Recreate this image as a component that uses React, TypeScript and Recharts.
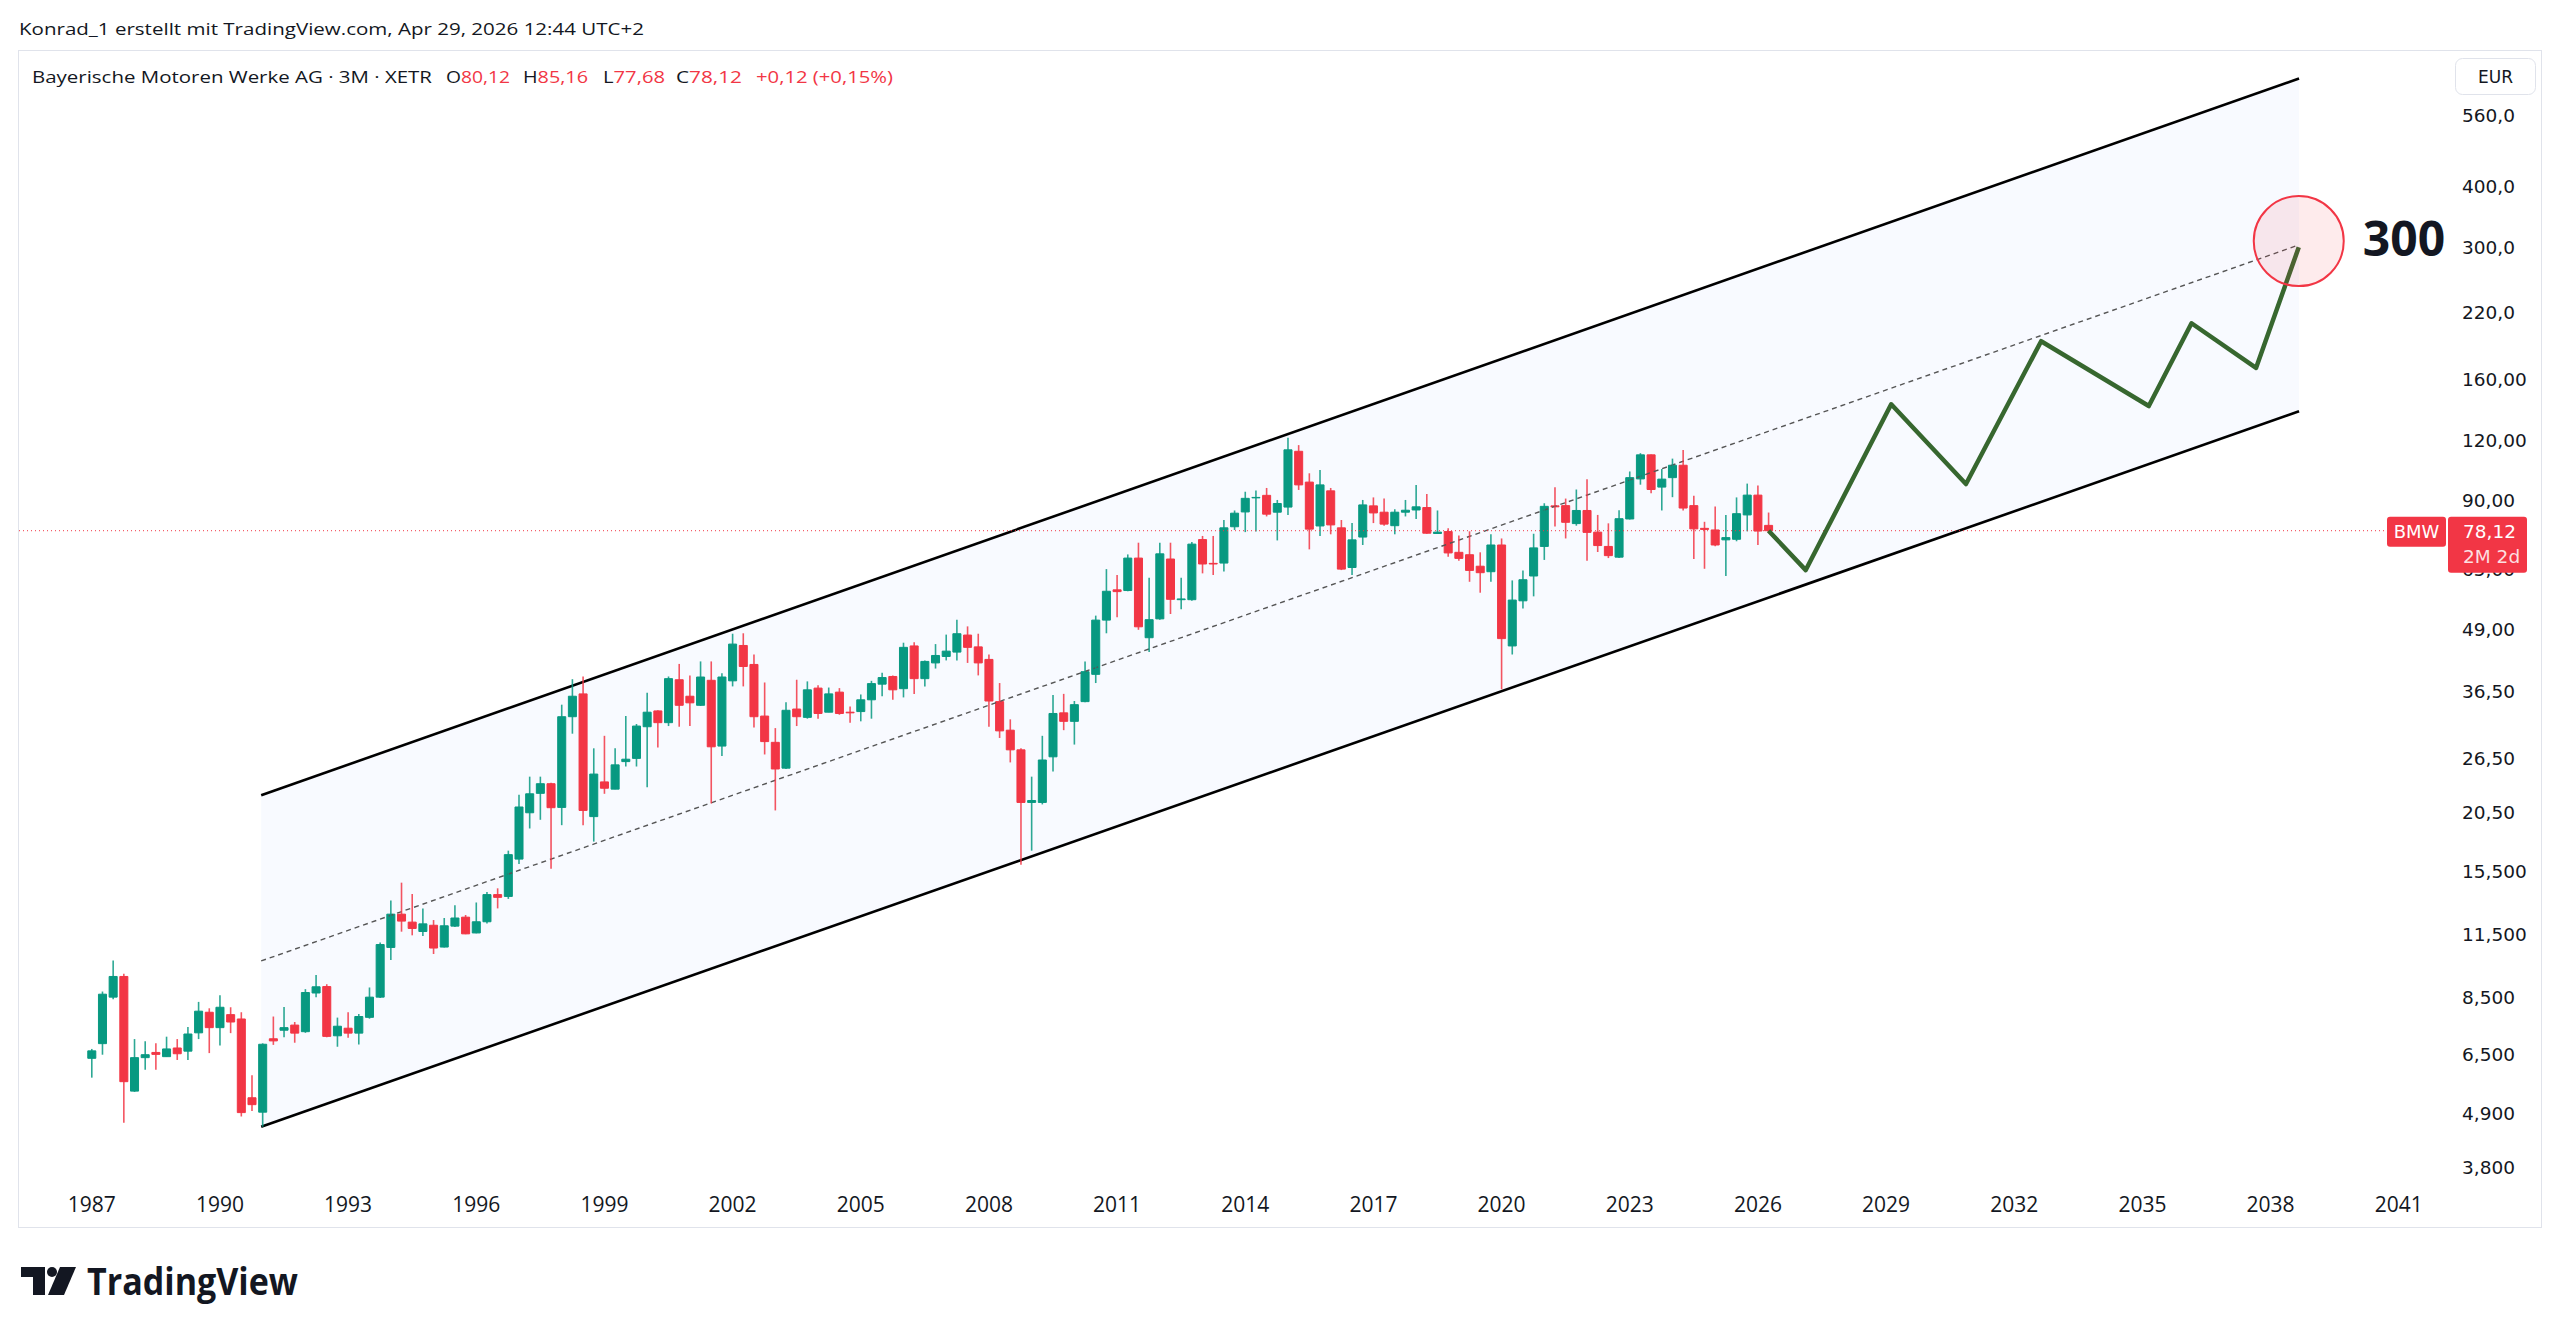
import React from 'react';
import {
  ComposedChart,
  XAxis,
  YAxis,
  Area,
  Line,
  ReferenceLine,
  ReferenceArea,
  ReferenceDot,
} from 'recharts';

// ---------- data (quarterly candles, BMW XETR, 1987Q1 .. 2026Q2) ----------
const START_YEAR = 1987;
const QUARTER_STEP = 0.25;

const OPEN = [
  6.38, 6.84, 8.53, 9.41, 5.46, 6.40, 6.56, 6.43, 6.70, 6.60, 7.20, 7.94, 7.38, 7.85, 7.69, 5.29,
  4.94, 7.00, 7.29, 7.47, 7.24, 8.70, 8.97, 7.10, 7.36, 7.19, 7.75, 8.53, 10.80, 12.65, 12.18, 11.65,
  12.00, 10.82, 11.95, 12.47, 11.57, 12.20, 13.88, 13.76, 16.43, 20.47, 22.45, 23.50, 21.00, 32.30, 36.00, 20.10,
  23.70, 22.90, 26.10, 26.50, 30.80, 33.20, 31.40, 38.50, 35.60, 34.10, 38.40, 28.10, 38.30, 45.30, 41.40, 32.40,
  28.60, 25.30, 33.50, 32.20, 37.00, 33.00, 36.30, 33.00, 33.10, 35.00, 37.70, 39.10, 36.90, 45.20, 38.70, 41.70,
  43.00, 43.90, 47.60, 45.00, 42.40, 34.70, 30.30, 27.60, 21.50, 21.50, 26.70, 32.90, 31.60, 34.70, 39.50, 51.10,
  59.00, 58.80, 68.60, 47.00, 51.40, 68.30, 56.30, 56.30, 74.90, 66.90, 67.00, 79.60, 85.40, 91.30, 92.40, 85.30,
  87.40, 113.90, 98.40, 79.90, 94.40, 79.20, 65.60, 75.80, 87.90, 85.30, 80.00, 85.30, 86.20, 87.20, 77.10, 77.80,
  70.50, 69.70, 66.00, 64.30, 73.00, 45.20, 56.00, 63.00, 72.50, 87.90, 88.00, 80.80, 86.00, 77.60, 72.50, 68.90,
  82.60, 99.90, 112.00, 96.10, 100.50, 106.60, 88.00, 79.00, 78.40, 74.80, 75.00, 84.20, 92.50, 80.12,
];
const HIGH = [
  6.67, 8.76, 10.15, 9.53, 6.99, 6.92, 6.85, 7.07, 6.99, 7.40, 8.34, 8.09, 8.61, 8.13, 7.94, 5.89,
  6.85, 7.78, 8.14, 7.58, 8.86, 9.47, 9.07, 7.74, 7.94, 7.87, 8.93, 11.06, 13.50, 14.69, 13.92, 13.00,
  12.30, 12.42, 13.20, 12.60, 13.37, 14.05, 14.30, 17.10, 22.30, 24.30, 24.30, 23.60, 34.20, 38.60, 39.10, 27.80,
  29.50, 27.80, 32.40, 31.20, 36.20, 33.30, 39.10, 41.50, 39.30, 42.00, 42.00, 39.70, 47.90, 48.00, 43.40, 38.00,
  30.60, 34.60, 38.50, 38.20, 37.50, 37.10, 37.00, 33.90, 35.90, 38.30, 39.80, 39.30, 45.90, 46.00, 42.20, 45.60,
  47.70, 51.20, 49.60, 47.90, 43.40, 37.90, 31.90, 27.80, 24.30, 29.50, 35.80, 36.00, 34.80, 42.00, 52.20, 65.10,
  63.30, 69.80, 73.80, 62.50, 73.80, 73.80, 62.50, 74.00, 76.20, 76.20, 82.20, 86.00, 94.00, 94.50, 95.70, 90.40,
  121.40, 117.30, 102.60, 104.20, 95.70, 82.20, 81.00, 90.40, 91.50, 91.00, 86.50, 90.40, 97.10, 93.00, 86.00, 79.00,
  76.40, 77.90, 70.50, 76.80, 75.30, 61.70, 64.70, 77.00, 89.00, 96.00, 91.00, 95.00, 99.70, 84.20, 80.90, 86.10,
  103.50, 112.90, 112.20, 104.70, 110.00, 114.60, 92.20, 81.50, 87.60, 84.20, 91.50, 97.70, 96.80, 85.16,
];
const LOW = [
  5.82, 6.49, 8.45, 4.70, 5.44, 6.04, 6.04, 6.42, 6.33, 6.33, 6.99, 6.54, 6.78, 7.19, 4.84, 4.97,
  4.61, 6.80, 7.05, 6.87, 7.20, 8.53, 7.05, 6.74, 7.03, 6.81, 7.70, 8.50, 10.17, 11.64, 11.44, 11.40,
  10.47, 10.80, 11.90, 11.50, 11.55, 12.10, 13.00, 13.60, 16.05, 19.00, 19.80, 15.70, 19.30, 29.80, 19.30, 17.85,
  22.40, 22.90, 25.50, 25.50, 23.10, 27.90, 30.90, 30.80, 30.90, 34.00, 21.40, 26.80, 37.30, 37.30, 30.70, 27.00,
  20.70, 25.20, 30.90, 32.00, 32.00, 33.00, 32.60, 31.40, 31.60, 32.00, 35.60, 35.00, 35.40, 36.00, 37.30, 40.60,
  42.20, 42.20, 41.70, 39.30, 30.80, 29.20, 26.00, 16.00, 17.10, 21.30, 24.90, 30.30, 28.30, 34.60, 37.90, 48.00,
  51.80, 58.60, 48.80, 43.90, 51.20, 52.60, 53.80, 56.00, 63.80, 63.30, 64.40, 78.40, 77.60, 77.80, 83.60, 74.60,
  84.20, 94.80, 71.50, 76.20, 76.80, 64.80, 63.30, 73.00, 81.00, 80.00, 76.80, 83.60, 82.60, 77.00, 77.00, 69.00,
  67.70, 61.30, 58.20, 61.30, 36.80, 43.40, 54.00, 57.20, 68.00, 79.70, 75.30, 80.00, 67.70, 70.60, 68.60, 68.60,
  82.40, 97.20, 93.30, 86.00, 91.60, 86.00, 68.30, 65.20, 72.60, 63.00, 74.30, 77.90, 73.00, 77.68,
];
const CLOSE = [
  6.61, 8.65, 9.41, 5.71, 6.40, 6.49, 6.50, 6.67, 6.52, 7.16, 7.98, 7.38, 8.13, 7.58, 4.93, 5.12,
  6.82, 6.93, 7.38, 7.19, 8.72, 8.96, 7.08, 7.43, 7.19, 7.78, 8.53, 10.95, 12.65, 12.24, 11.82, 12.08,
  10.77, 11.97, 12.42, 11.52, 12.20, 13.88, 13.70, 16.78, 21.04, 22.40, 23.50, 20.97, 32.30, 35.60, 20.70, 24.60,
  23.00, 25.70, 26.40, 30.90, 33.00, 31.40, 38.70, 34.10, 34.50, 39.00, 28.00, 39.00, 45.60, 41.00, 32.30, 28.70,
  25.20, 33.30, 32.30, 36.70, 32.80, 36.00, 32.80, 32.90, 35.00, 37.80, 38.90, 36.70, 44.90, 38.70, 42.00, 43.20,
  44.10, 47.90, 44.90, 41.70, 34.80, 30.20, 27.60, 21.50, 21.70, 26.30, 32.80, 31.60, 34.20, 40.00, 51.10, 58.60,
  58.50, 68.60, 49.50, 51.20, 70.00, 56.40, 56.50, 73.30, 66.70, 66.70, 79.20, 84.90, 91.10, 91.50, 84.50, 88.90,
  114.70, 97.10, 78.70, 97.10, 80.30, 65.10, 74.80, 88.30, 85.00, 80.60, 85.30, 86.10, 87.50, 77.20, 77.60, 70.30,
  68.50, 64.70, 64.00, 73.00, 46.80, 56.20, 61.90, 72.00, 87.70, 87.50, 81.30, 86.00, 77.50, 72.80, 69.40, 82.70,
  100.50, 112.00, 95.00, 99.80, 106.60, 87.00, 78.80, 78.60, 73.00, 75.60, 84.70, 92.50, 78.00, 78.12,
];

// axis ticks
const X_TICKS = [1987, 1990, 1993, 1996, 1999, 2002, 2005, 2008, 2011, 2014, 2017, 2020, 2023, 2026, 2029, 2032, 2035, 2038, 2041];
const Y_TICKS = [3.8, 4.9, 6.5, 8.5, 11.5, 15.5, 20.5, 26.5, 36.5, 49, 65, 90, 120, 160, 220, 300, 400, 560];
const Y_TICK_LABELS = ['3,800', '4,900', '6,500', '8,500', '11,500', '15,500', '20,50', '26,50', '36,50', '49,00', '65,00', '90,00', '120,00', '160,00', '220,0', '300,0', '400,0', '560,0'];

// parallel channel (start / end)
const CHANNEL_X = [1990.965, 2038.667];
const CHANNEL_UPPER = [22.25, 669];
const CHANNEL_LOWER = [4.61, 137.7];
const CHANNEL_MID = [10.13, 303.5];

// projected path
const PROJ_X = [2026.25, 2027.12, 2029.12, 2030.87, 2032.63, 2035.15, 2036.15, 2037.66, 2038.66];
const PROJ_V = [78.12, 64.8, 142.4, 97.5, 192.1, 141.2, 209.2, 169.2, 300];

const TARGET_X = 2038.66;
const TARGET_Y = 309;
const TARGET_LABEL = '300';
const LAST_PRICE = 78.12;
const LAST_PRICE_LABEL = '78,12';
const COUNTDOWN_LABEL = '2M 2d';
const SYMBOL = 'BMW';

// ---------- styling ----------
const GREEN = '#089981';
const RED = '#f23645';
const INK = '#131722';
const FONT_UI = "'Open Sans', 'Noto Sans', sans-serif";
const FONT_PRICE = "'DejaVu Sans', Verdana, sans-serif";

const X_DOMAIN: [number, number] = [1985.296, 2042.06];
const Y_DOMAIN: [number, number] = [3.496, 762];
const BODY_HALF = 0.094;
const CHART_W = 2524;
const CHART_H = 1178;
const CHART_MARGIN = { top: 1, right: 0, bottom: 0, left: 1 };

const PriceTag = (props: any) => {
  const vb = props.viewBox || {};
  const right = (vb.x || 0) + (vb.width || 0);
  const y = vb.y || 0;
  return (
    <g>
      <rect x={right - 57} y={y - 14} width={59} height={30} rx={3} fill={RED} />
      <text x={right - 27.5} y={y + 1} textAnchor="middle" dominantBaseline="central" fill="#fff" fontSize={18} fontFamily={FONT_PRICE}>
        {SYMBOL}
      </text>
      <rect x={right + 4} y={y - 14} width={79} height={56} rx={3} fill={RED} />
      <text x={right + 19} y={y + 1} dominantBaseline="central" fill="#fff" fontSize={18.5} fontFamily={FONT_PRICE}>
        {LAST_PRICE_LABEL}
      </text>
      <text x={right + 19} y={y + 26} dominantBaseline="central" fill="#ffffff" fillOpacity={0.85} fontSize={18.5} fontFamily={FONT_PRICE}>
        {COUNTDOWN_LABEL}
      </text>
    </g>
  );
};

const TargetLabel = (props: any) => {
  const vb = props.viewBox || {};
  const x = (vb.x || 0) + (vb.width || 0) + 19;
  const y = (vb.y || 0) + (vb.height || 0) / 2 - 4;
  return (
    <text x={x} y={y} dominantBaseline="central" fill={INK} fontSize={48} fontWeight={700} fontFamily={FONT_UI}>
      {TARGET_LABEL}
    </text>
  );
};

const xAxisProps = {
  dataKey: 'x',
  type: 'number' as const,
  domain: X_DOMAIN,
  allowDataOverflow: true,
  ticks: X_TICKS,
  interval: 0 as const,
  tickLine: false,
  axisLine: false,
  tickSize: 0,
  tickMargin: 12,
  height: 43,
};
const yAxisProps = {
  orientation: 'right' as const,
  type: 'number' as const,
  scale: 'log' as const,
  domain: Y_DOMAIN,
  allowDataOverflow: true,
  ticks: Y_TICKS,
  interval: 0 as const,
  width: 98,
  tickLine: false,
  axisLine: false,
  tickSize: 0,
  tickMargin: 18,
};

export default function App() {
  const bandData = CHANNEL_X.map((x, i) => ({ x, band: [CHANNEL_LOWER[i], CHANNEL_UPPER[i]] }));
  const projData = PROJ_X.map((x, i) => ({ x, v: PROJ_V[i] }));
  const candles = OPEN.map((o, i) => ({
    x: START_YEAR + i * QUARTER_STEP,
    o,
    h: HIGH[i],
    l: LOW[i],
    c: CLOSE[i],
  }));

  return (
    <div style={{ position: 'absolute', left: 0, top: 0, width: 2560, height: 1335, background: '#fff', overflow: 'hidden' }}>
      <div style={{ position: 'absolute', left: 18, top: 50 }}>
        <ComposedChart width={CHART_W} height={CHART_H} margin={CHART_MARGIN}>
          <XAxis {...xAxisProps} tick={{ fill: INK, fontSize: 21, fontFamily: FONT_UI, fontWeight: 500 }} />
          <YAxis
            {...yAxisProps}
            tickFormatter={(v: number) => Y_TICK_LABELS[Y_TICKS.indexOf(v)] ?? String(v)}
            tick={{ fill: INK, fontSize: 18.5, fontFamily: FONT_PRICE }}
          />

          <Area
            data={bandData}
            dataKey="band"
            type="linear"
            stroke="none"
            fill="#2962ff"
            fillOpacity={0.03}
            isAnimationActive={false}
            dot={false}
            activeDot={false}
          />

          <ReferenceLine
            segment={[{ x: CHANNEL_X[0], y: CHANNEL_UPPER[0] }, { x: CHANNEL_X[1], y: CHANNEL_UPPER[1] }]}
            stroke="#000"
            strokeWidth={2.6}
          />
          <ReferenceLine
            segment={[{ x: CHANNEL_X[0], y: CHANNEL_LOWER[0] }, { x: CHANNEL_X[1], y: CHANNEL_LOWER[1] }]}
            stroke="#000"
            strokeWidth={2.6}
          />
          <ReferenceLine
            segment={[{ x: CHANNEL_X[0], y: CHANNEL_MID[0] }, { x: CHANNEL_X[1], y: CHANNEL_MID[1] }]}
            stroke="#555"
            strokeWidth={1.4}
            strokeDasharray="5 4"
          />

          {candles.map((k, i) => (
            <ReferenceLine
              key={'w' + i}
              segment={[{ x: k.x, y: k.l }, { x: k.x, y: k.h }]}
              stroke={k.c >= k.o ? GREEN : RED}
              strokeWidth={1.6}
              strokeOpacity={0.85}
            />
          ))}
          {candles.map((k, i) => (
            <ReferenceArea
              key={'b' + i}
              x1={k.x - BODY_HALF}
              x2={k.x + BODY_HALF}
              y1={Math.min(k.o, k.c)}
              y2={Math.max(k.o, k.c)}
              fill={k.c >= k.o ? GREEN : RED}
              fillOpacity={1}
              stroke={k.c >= k.o ? GREEN : RED}
              strokeWidth={1}
              ifOverflow="visible"
            />
          ))}

          <ReferenceLine y={LAST_PRICE} stroke={RED} strokeWidth={1} strokeDasharray="1 3" />

          <Line
            data={projData}
            dataKey="v"
            type="linear"
            stroke="#37672f"
            strokeWidth={4.5}
            strokeLinejoin="round"
            dot={false}
            activeDot={false}
            isAnimationActive={false}
          />

          <ReferenceDot
            x={TARGET_X}
            y={TARGET_Y}
            r={45}
            fill={RED}
            fillOpacity={0.1}
            stroke={RED}
            strokeWidth={2}
            ifOverflow="visible"
            label={TargetLabel}
          />
        </ComposedChart>
      </div>

      {/* top layer: last-price tag, drawn through the same scales above the axis labels */}
      <div style={{ position: 'absolute', left: 18, top: 50, pointerEvents: 'none' }}>
        <ComposedChart width={CHART_W} height={CHART_H} margin={CHART_MARGIN}>
          <XAxis {...xAxisProps} tick={false} />
          <YAxis {...yAxisProps} tick={false} />
          <ReferenceLine y={LAST_PRICE} stroke="none" strokeWidth={0} label={PriceTag} />
        </ComposedChart>
      </div>

      <svg
        width={2560}
        height={1335}
        style={{ position: 'absolute', left: 0, top: 0, pointerEvents: 'none' }}
      >
        <rect x={18.5} y={50.5} width={2523} height={1177} fill="none" stroke="#e0e3eb" strokeWidth={1} />

        <text x={19} y={35} fontSize={17} fontFamily={FONT_UI} fill={INK} textLength={625} lengthAdjust="spacingAndGlyphs">
          Konrad_1 erstellt mit TradingView.com, Apr 29, 2026 12:44 UTC+2
        </text>

        <g fontSize={17} fontFamily={FONT_UI}>
          <text x={32} y={83} fill={INK} textLength={400} lengthAdjust="spacingAndGlyphs">
            Bayerische Motoren Werke AG · 3M · XETR
          </text>
          <text x={446} y={83} textLength={64} lengthAdjust="spacingAndGlyphs">
            <tspan fill={INK}>O</tspan>
            <tspan fill={RED}>80,12</tspan>
          </text>
          <text x={523} y={83} textLength={65} lengthAdjust="spacingAndGlyphs">
            <tspan fill={INK}>H</tspan>
            <tspan fill={RED}>85,16</tspan>
          </text>
          <text x={603} y={83} textLength={62} lengthAdjust="spacingAndGlyphs">
            <tspan fill={INK}>L</tspan>
            <tspan fill={RED}>77,68</tspan>
          </text>
          <text x={676} y={83} textLength={66} lengthAdjust="spacingAndGlyphs">
            <tspan fill={INK}>C</tspan>
            <tspan fill={RED}>78,12</tspan>
          </text>
          <text x={756} y={83} fill={RED} textLength={137} lengthAdjust="spacingAndGlyphs">
            +0,12 (+0,15%)
          </text>
        </g>

        <rect x={2455.5} y={58.5} width={80} height={36} rx={7} fill="#fff" stroke="#e0e3eb" />
        <text x={2495.5} y={77} textAnchor="middle" dominantBaseline="central" fontSize={17} fontFamily={FONT_PRICE} fill={INK}>
          EUR
        </text>

        <g fill={INK}>
          <rect x={21} y={1267} width={24} height={10} />
          <rect x={33} y={1267} width={12} height={28} />
          <circle cx={52} cy={1272} r={5} />
          <polygon points="60,1267 76,1267 64,1295 48,1295" />
          <text x={87} y={1295} fontSize={38} fontWeight={700} fontFamily={FONT_UI} textLength={211} lengthAdjust="spacingAndGlyphs">
            TradingView
          </text>
        </g>
      </svg>
    </div>
  );
}
